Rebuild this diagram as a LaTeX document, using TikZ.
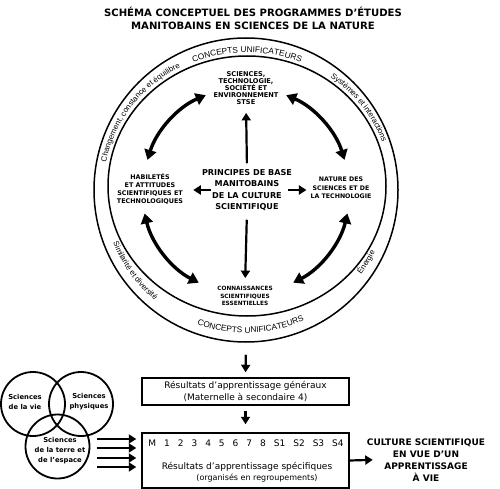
\documentclass[tikz,border=0pt]{standalone}
\usepackage{fontspec}
\setmainfont{DejaVu Sans}
\newfontfamily\bandfont{Liberation Sans}
\usetikzlibrary{arrows.meta,decorations.text}
\begin{document}
\begin{tikzpicture}[x=1pt,y=1pt,
  lbl/.style={align=center, inner sep=0pt},
  arr/.style={line width=2.2pt, -{Triangle[length=7.5pt,width=9pt]}},
  carr/.style={line width=3.4pt, {Triangle[length=10pt,width=12pt]}-{Triangle[length=10pt,width=12pt]}},
  ring/.style={line width=1.5pt},
  venn/.style={line width=1.8pt},
]
\useasboundingbox (0,0) rectangle (500,-489);

% title
\node[lbl, font=\bfseries\fontsize{10.1}{13}\selectfont] (title) at (253,-18.5)
  {SCHÉMA CONCEPTUEL DES PROGRAMMES D'ÉTUDES\\MANITOBAINS EN SCIENCES DE LA NATURE};

% rings
\node[draw, circle, ring, minimum size=304, inner sep=0pt] (outer) at (246,-190) {};
\draw[ring] (247,-186) ellipse [x radius=139, y radius=130];

% band texts (clockwise, tops outward)
\path[decorate, decoration={text along path, text align=center,
  text={|\bandfont\fontsize{8.3}{9}\selectfont|CONCEPTS UNIFICATEURS}}]
  ([shift={(247,-186)}]125:142.5 and 133.5) arc[start angle=125, end angle=55, x radius=142.5, y radius=133.5];
\path[decorate, decoration={text along path, text align=center,
  text={|\bandfont\fontsize{7.8}{9}\selectfont|Changement, constance et équilibre}}]
  ([shift={(247,-186)}]176:143 and 134) arc[start angle=176, end angle=112, x radius=143, y radius=134];
\path[decorate, decoration={text along path, text align=center,
  text={|\bandfont\fontsize{7.8}{9}\selectfont|Systèmes et interactions}}]
  ([shift={(247,-186)}]60:143 and 134) arc[start angle=60, end angle=13, x radius=143, y radius=134];
% band texts (counterclockwise, tops inward)
\path[decorate, decoration={text along path, text align=center,
  text={|\bandfont\fontsize{8.3}{9}\selectfont|CONCEPTS UNIFICATEURS}}]
  ([shift={(246,-190)}]237:143) arc[start angle=237, end angle=307, radius=143];
\path[decorate, decoration={text along path, text align=center,
  text={|\bandfont\fontsize{7.8}{9}\selectfont|Similarité et diversité}}]
  ([shift={(246,-190)}]194:143) arc[start angle=194, end angle=238, radius=143];
\path[decorate, decoration={text along path, text align=center,
  text={|\bandfont\fontsize{7.8}{9}\selectfont|Énergie}}]
  ([shift={(246,-190)}]316:143) arc[start angle=316, end angle=342, radius=143];

% inner nodes
\node[lbl, font=\bfseries\fontsize{6.6}{7.1}\selectfont] (stse) at (246,-88)
  {SCIENCES,\\TECHNOLOGIE,\\SOCIÉTÉ ET\\ENVIRONNEMENT\\STSE};
\node[lbl, font=\bfseries\fontsize{8.1}{11.3}\selectfont] (pb) at (247,-190)
  {PRINCIPES DE BASE\\MANITOBAINS\\DE LA CULTURE\\SCIENTIFIQUE};
\node[lbl, font=\bfseries\fontsize{6.4}{8.3}\selectfont] (hab) at (150,-189)
  {HABILETÉS\\ET ATTITUDES\\SCIENTIFIQUES ET\\TECHNOLOGIQUES};
\node[lbl, font=\bfseries\fontsize{6.25}{8.5}\selectfont] (nat) at (341,-188)
  {NATURE DES\\SCIENCES ET DE\\LA TECHNOLOGIE};
\node[lbl, font=\bfseries\fontsize{5.8}{7.5}\selectfont] (conn) at (245,-296)
  {CONNAISSANCES\\SCIENTIFIQUES\\ESSENTIELLES};

% straight arrows from centre
\draw[arr, shorten <=6pt, shorten >=8pt] (pb.north) -- (stse.south);
\draw[arr, shorten <=9pt, shorten >=8pt] (pb.south) -- (conn.north);
\draw[arr, shorten <=-9pt, shorten >=10pt] (pb.west) -- (pb.west -| hab.east);
\draw[arr, shorten <=-4pt, shorten >=4pt] (pb.east) -- (pb.east -| nat.west);

% curved double arrows
\coordinate (ul) at ([shift={(246,-190)}]163:103);
\coordinate (ur) at ([shift={(246,-190)}]17:103);
\coordinate (ll) at ([shift={(246,-190)}]193:104);
\coordinate (lr) at ([shift={(246,-190)}]347:104);
\draw[carr] (ul) arc[start angle=163, end angle=113, radius=103];
\draw[carr] (ur) arc[start angle=17, end angle=67, radius=103];
\draw[carr] (ll) arc[start angle=193, end angle=243, radius=104];
\draw[carr] (lr) arc[start angle=347, end angle=297, radius=104];

% boxes
\node[draw, ring, minimum width=207, minimum height=27, inner sep=0pt, align=center,
  font=\fontsize{9}{12.5}\selectfont] (box1) at (245.5,-391.5)
  {Résultats d'apprentissage généraux\\(Maternelle à secondaire 4)};
\node[draw, ring, minimum width=207, minimum height=55, inner sep=0pt] (box2) at (245.5,-460.5) {};
\node[lbl, font=\fontsize{9}{10}\selectfont] (grades) at (246,-443)
  {M\hspace{8pt}1\hspace{8pt}2\hspace{8pt}3\hspace{8pt}4\hspace{8pt}5\hspace{8pt}6\hspace{8pt}7\hspace{8pt}8\hspace{8pt}S1\hspace{8pt}S2\hspace{8pt}S3\hspace{8pt}S4};
\node[lbl, font=\fontsize{9}{10}\selectfont] (ras) at (247,-467) {Résultats d'apprentissage spécifiques};
\node[lbl, font=\fontsize{8}{9}\selectfont] (org) at (257,-478) {(organisés en regroupements)};

\draw[arr, shorten <=12pt, shorten >=5pt] (outer.south) -- (box1.north);
\draw[arr, shorten <=5pt, shorten >=8pt] (box1.south) -- (box2.north);

% culture
\node[lbl, font=\bfseries\fontsize{9}{12}\selectfont] (culture) at (426,-460)
  {CULTURE SCIENTIFIQUE\\EN VUE D'UN\\APPRENTISSAGE\\À VIE};
\draw[arr, shorten >=-6pt] (box2.east) -- (culture.west);

% Venn
\draw[venn] (33,-404) circle (32);
\draw[venn] (81,-404) circle (32);
\draw[venn] (57.5,-446.5) circle (32);
\node[lbl, font=\bfseries\fontsize{6.8}{10}\selectfont] (vie) at (25,-402) {Sciences\\de la vie};
\node[lbl, font=\bfseries\fontsize{6.8}{10}\selectfont] (phys) at (89,-402) {Sciences\\physiques};
\node[lbl, font=\bfseries\fontsize{6.8}{10}\selectfont] (terre) at (60,-451) {Sciences\\de la terre et\\de l'espace};

\coordinate (v1) at (97,-439);
\coordinate (v2) at (97,-448);
\coordinate (v3) at (97,-458);
\coordinate (v4) at (97,-467);
\foreach \v in {v1,v2,v3,v4}
  \draw[arr, shorten >=5pt] (\v) -- (\v -| box2.west);
\end{tikzpicture}
\end{document}
